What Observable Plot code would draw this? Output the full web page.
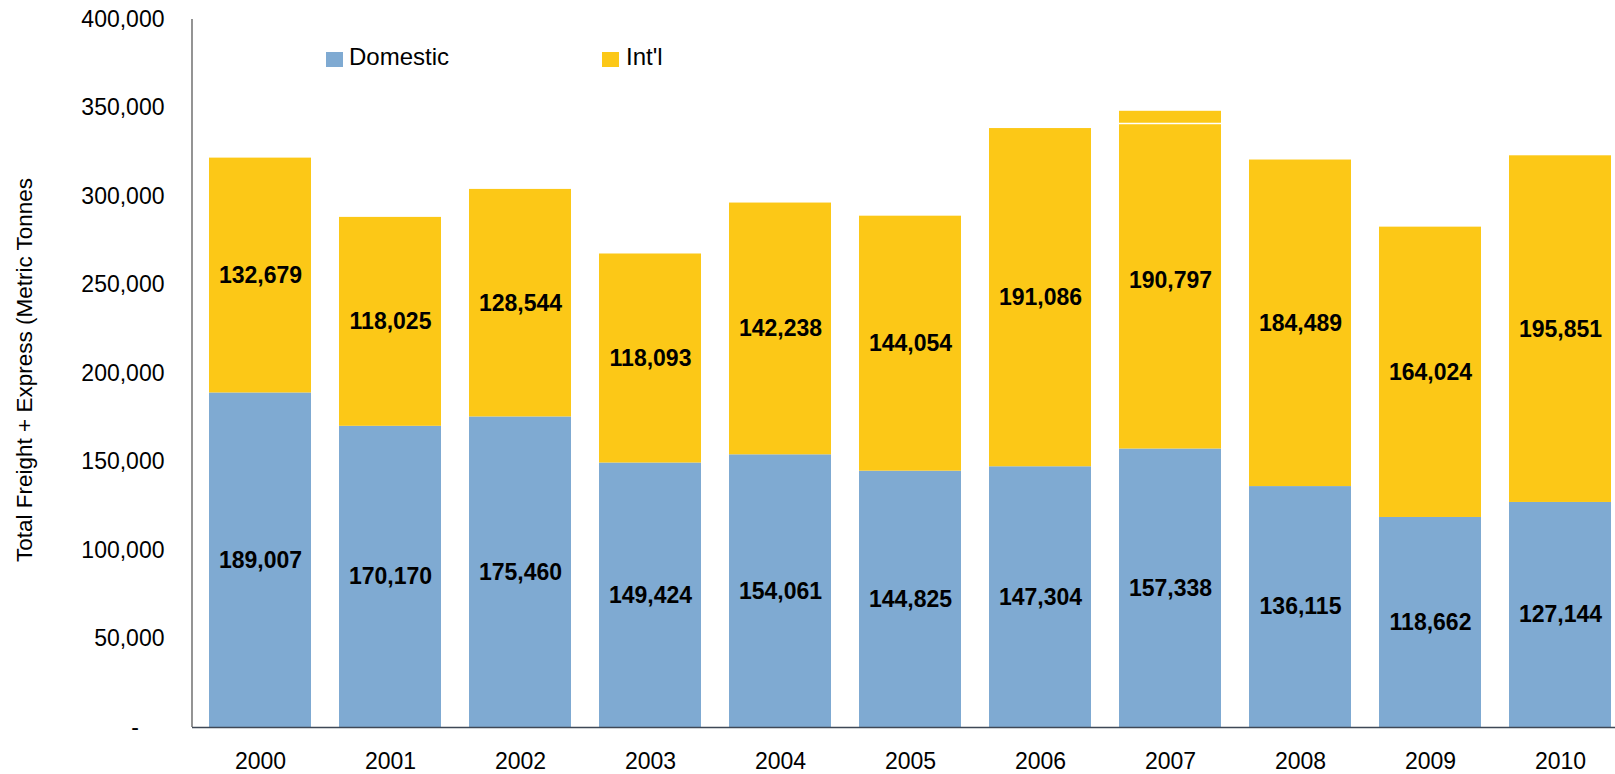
<!DOCTYPE html>
<html><head><meta charset="utf-8">
<script src="https://cdn.jsdelivr.net/npm/d3@7"></script>
<script src="https://cdn.jsdelivr.net/npm/@observablehq/plot@0.6"></script>
<style>
body{margin:0;background:#fff;font-family:"Liberation Sans",Arial,sans-serif;}
#wrap{position:relative;width:1615px;height:774px;overflow:hidden;background:#fff;}
.sw{position:absolute;width:17px;height:15px;}
.lt{position:absolute;font-size:24px;line-height:24px;color:#000;white-space:nowrap;}
#ytitle{position:absolute;font-size:22.5px;line-height:22.5px;white-space:nowrap;color:#000;
  left:25px;top:370px;transform:translate(-50%,-50%) rotate(-90deg);}
</style></head><body>
<div id="wrap"></div>
<script>
const years = ["2000","2001","2002","2003","2004","2005","2006","2007","2008","2009","2010"];
const domestic = [189007,170170,175460,149424,154061,144825,147304,157338,136115,118662,127144];
const intl = [132679,118025,128544,118093,142238,144054,191086,190797,184489,164024,195851];
const seriesNames = ["Domestic","Int'l"];
const seriesColors = ["#7FAAD2","#FCC817"];
const yTicks = [0,50000,100000,150000,200000,250000,300000,350000,400000];
const yTitle = "Total Freight + Express (Metric Tonnes";
// thin white line visible inside the 2007 bar
const whiteMark = [{year:"2007", v:341200}];

const rows = [];
years.forEach((y,i)=>{
  rows.push({year:y, series:seriesNames[0], value:domestic[i]});
  rows.push({year:y, series:seriesNames[1], value:intl[i]});
});

const fmt = d3.format(",");
const leftLine = (index, scales, values, dims) => {
  const ns = "http://www.w3.org/2000/svg";
  const l = document.createElementNS(ns,"line");
  l.setAttribute("x1", dims.marginLeft); l.setAttribute("x2", dims.marginLeft);
  l.setAttribute("y1", dims.marginTop); l.setAttribute("y2", dims.height - dims.marginBottom);
  l.setAttribute("stroke", "#5a5a5a"); l.setAttribute("stroke-width", 1.3);
  return l;
};

const chart = Plot.plot({
  width:1615, height:774,
  marginLeft:192, marginTop:19, marginBottom:47, marginRight:0,
  style:{fontFamily:"Liberation Sans, Arial, sans-serif", fontSize:"23px", color:"#000", background:"white", overflow:"hidden"},
  x:{domain:years, range:[192,1627.5], paddingInner:0.218, paddingOuter:0.109, label:null},
  y:{domain:[0,400000], label:null},
  color:{domain:seriesNames, range:seriesColors},
  marks:[
    Plot.barY(rows, Plot.stackY({x:"year", y:"value", z:"series", fill:"series"})),
    Plot.tickY(whiteMark, {x:"year", y:"v", stroke:"white", strokeWidth:1.5}),
    Plot.text(rows, Plot.stackY({x:"year", y:"value", z:"series", text:d=>fmt(d.value), fontWeight:"bold", fontSize:23, fill:"#000"})),
    Plot.axisY({ticks:yTicks, tickSize:0, tickPadding:28, fontSize:23, label:null,
      tickFormat:d=> d===0 ? "-\u00a0\u00a0\u00a0\u00a0" : fmt(d)}),
    Plot.axisX({tickSize:0, tickPadding:25, fontSize:23, label:null}),
    Plot.ruleY([0], {stroke:"#3f4856", strokeWidth:1.5}),
    leftLine
  ]
});
const wrap = document.getElementById("wrap");
wrap.appendChild(chart);

// legend overlay
const legPos = [{sx:326, tx:349},{sx:602, tx:626}];
seriesNames.forEach((n,i)=>{
  const s = document.createElement("div"); s.className="sw";
  s.style.left = legPos[i].sx+"px"; s.style.top = "52px"; s.style.background = seriesColors[i];
  wrap.appendChild(s);
  const t = document.createElement("div"); t.className="lt"; t.textContent = n;
  t.style.left = legPos[i].tx+"px"; t.style.top = "45px";
  wrap.appendChild(t);
});
const yt = document.createElement("div"); yt.id="ytitle"; yt.textContent = yTitle;
wrap.appendChild(yt);
</script>
</body></html>
